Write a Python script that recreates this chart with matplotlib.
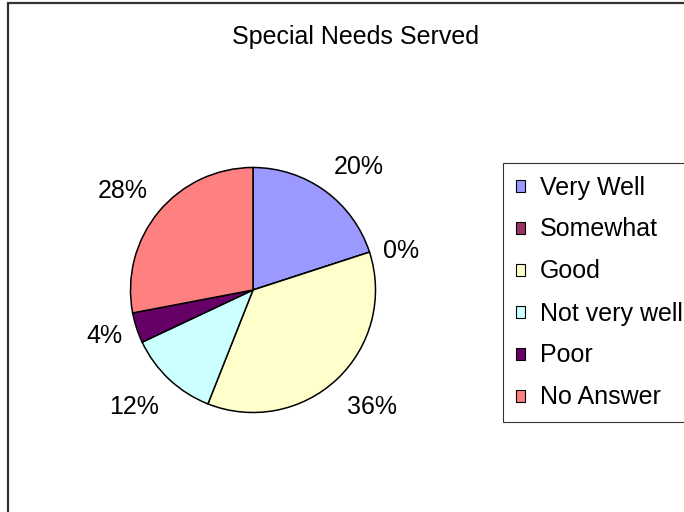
import numpy as np
import matplotlib.pyplot as plt
from matplotlib.patches import Rectangle, Patch

plt.rcParams['font.family'] = ['Liberation Sans', 'DejaVu Sans']

categories = ['Very Well', 'Somewhat', 'Good', 'Not very well', 'Poor', 'No Answer']
values = [20, 0, 36, 12, 4, 28]
colors = ['#9999FF', '#993366', '#FFFFCC', '#CCFFFF', '#660066', '#FF8080']
title = 'Special Needs Served'

W, H = 684, 512
fs = 18

fig = plt.figure(figsize=(W / 100, H / 100), dpi=100)

# outer chart frame (runs off the right and bottom edges)
fig.patches.append(Rectangle((8 / W, -0.1), 1.2, (H - 3) / H + 0.1, transform=fig.transFigure,
                             fill=False, edgecolor='#333333', linewidth=1.6))

fig.text(356 / W, 1 - 37 / H, title, ha='center', va='center', fontsize=fs)

cx, cy, r = 253, 290, 122.5
ax = fig.add_axes([(cx - r) / W, (H - cy - r) / H, 2 * r / W, 2 * r / H])
wedges, _ = ax.pie(values, colors=colors, startangle=90, counterclock=False,
                   wedgeprops=dict(edgecolor='black', linewidth=1.1))
ax.set_xlim(-1, 1)
ax.set_ylim(-1, 1)
ax.set_aspect('equal')
ax.axis('off')

total = sum(values)
for w, v in zip(wedges, values):
    mid = np.deg2rad((w.theta1 + w.theta2) / 2)
    x, y = 1.12 * np.cos(mid), 1.12 * np.sin(mid)
    ha = 'left' if np.cos(mid) > 0 else 'right'
    s = np.sin(mid)
    va = 'center' if abs(s) < 0.5 else ('bottom' if s > 0 else 'top')
    if abs(s) < 0.5:
        y -= 0.03
    elif s < 0:
        y -= 0.04
    ax.text(x, y, f'{round(100 * v / total)}%', ha=ha, va=va, fontsize=fs, clip_on=False)

handles = [Patch(facecolor=c, edgecolor='black', linewidth=0.8) for c in colors]
leg = fig.legend(handles, categories, loc='upper left', bbox_to_anchor=(503 / W, 1 - 163 / H),
                 fontsize=fs, frameon=True, fancybox=False, edgecolor='black',
                 handlelength=0.36, handleheight=0.36, handletextpad=0.6,
                 labelspacing=0.72, borderpad=0.5, borderaxespad=0)
leg.get_frame().set_linewidth(0.8)

fig.savefig('out.png', dpi=100)
